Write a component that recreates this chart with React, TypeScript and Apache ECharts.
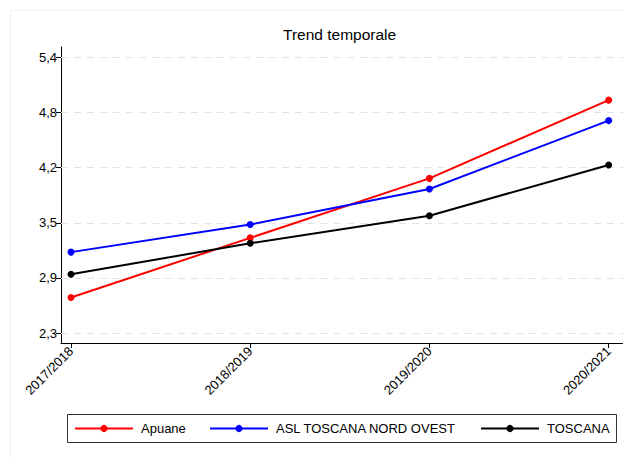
import React, { useEffect, useRef } from "react";
import * as echarts from "echarts";

const categories = ["2017/2018", "2018/2019", "2019/2020", "2020/2021"];
const apuane = [2.7, 3.37, 4.04, 4.92];
const aslToscanaNordOvest = [3.21, 3.52, 3.92, 4.69];
const toscana = [2.96, 3.31, 3.62, 4.19];
const yTicks = [2.3, 2.92, 3.54, 4.16, 4.78, 5.4];
const seriesNames = ["Apuane", "ASL TOSCANA NORD OVEST", "TOSCANA"];
const seriesColors = ["#ff0000", "#0000ff", "#000000"];

const FONT = "Liberation Sans, Arial, Helvetica, sans-serif";

export default function App() {
  const ref = useRef<HTMLDivElement>(null);
  useEffect(() => {
    if (!ref.current) return;
    const chart = echarts.init(ref.current, undefined, { renderer: "svg" });
    const allData = [apuane, aslToscanaNordOvest, toscana];
    const series: any[] = allData.map((vals, i) => ({
      name: seriesNames[i],
      type: "line",
      data: vals.map((v, j) => [j, v]),
      symbol: "circle",
      symbolSize: 7,
      lineStyle: { width: 2, color: seriesColors[i] },
      itemStyle: { color: seriesColors[i] },
      z: 3,
      ...(i === 0
        ? {
            markLine: {
              silent: true,
              symbol: "none",
              z: 1,
              label: { show: false },
              lineStyle: { color: "#e3e3e3", type: [7, 6], width: 1 },
              data: yTicks.map((t) => ({ yAxis: t })),
            },
          }
        : {}),
    }));
    const legendLefts = [74, 209, 480];
    chart.setOption({
      animation: false,
      backgroundColor: "#ffffff",
      textStyle: { fontFamily: FONT },
      title: {
        text: "Trend temporale",
        left: 283,
        top: 25,
        padding: 0,
        textStyle: { fontFamily: FONT, fontSize: 15.5, fontWeight: "normal", color: "#000", lineHeight: 18 },
      },
      grid: { left: 61, top: 47, right: 0, bottom: 114, containLabel: false },
      xAxis: {
        type: "value",
        min: -0.0557,
        max: 3.08,
        axisLine: { show: true, onZero: false, lineStyle: { color: "#000", width: 1 } },
        axisTick: { show: true, length: 5, customValues: [0, 1, 2, 3], lineStyle: { color: "#000" } },
        axisLabel: {
          customValues: [0, 1, 2, 3],
          rotate: 45,
          margin: 6,
          fontSize: 13,
          fontFamily: FONT,
          color: "#000",
          formatter: (v: number) => categories[Math.round(v)] ?? "",
        },
        splitLine: { show: false },
      },
      yAxis: {
        type: "value",
        min: 2.1875,
        max: 5.518,
        axisLine: { show: true, onZero: false, lineStyle: { color: "#000", width: 1 } },
        axisTick: { show: true, length: 5, customValues: yTicks, lineStyle: { color: "#000" } },
        axisLabel: {
          customValues: yTicks,
          margin: 4,
          fontSize: 13,
          fontFamily: FONT,
          color: "#000",
          formatter: (v: number) => v.toFixed(1).replace(".", ","),
        },
        splitLine: { show: false },
      },
      legend: seriesNames.map((name, i) => ({
        data: [name],
        left: legendLefts[i],
        top: 421,
        orient: "horizontal",
        itemWidth: 58,
        itemHeight: 9,
        itemGap: 10,
        selectedMode: false,
        textStyle: { fontFamily: FONT, fontSize: 13, color: "#000", lineHeight: 15, padding: [0, 0, 0, 3] },
        padding: 0,
      })),
      graphic: [
        {
          type: "rect",
          shape: { x: 10.5, y: 10.5, width: 700, height: 600 },
          style: { fill: "none", stroke: "#edf1f1", lineWidth: 1 },
          silent: true,
          z: -1,
        },
        {
          type: "rect",
          shape: { x: 67.5, y: 414.5, width: 549, height: 28 },
          style: { fill: "none", stroke: "#333333", lineWidth: 1 },
          silent: true,
        },
      ],
      series,
    });
    return () => chart.dispose();
  }, []);
  return (
    <div
      ref={ref}
      style={{ position: "fixed", left: 0, top: 0, width: 623, height: 457 }}
    />
  );
}
